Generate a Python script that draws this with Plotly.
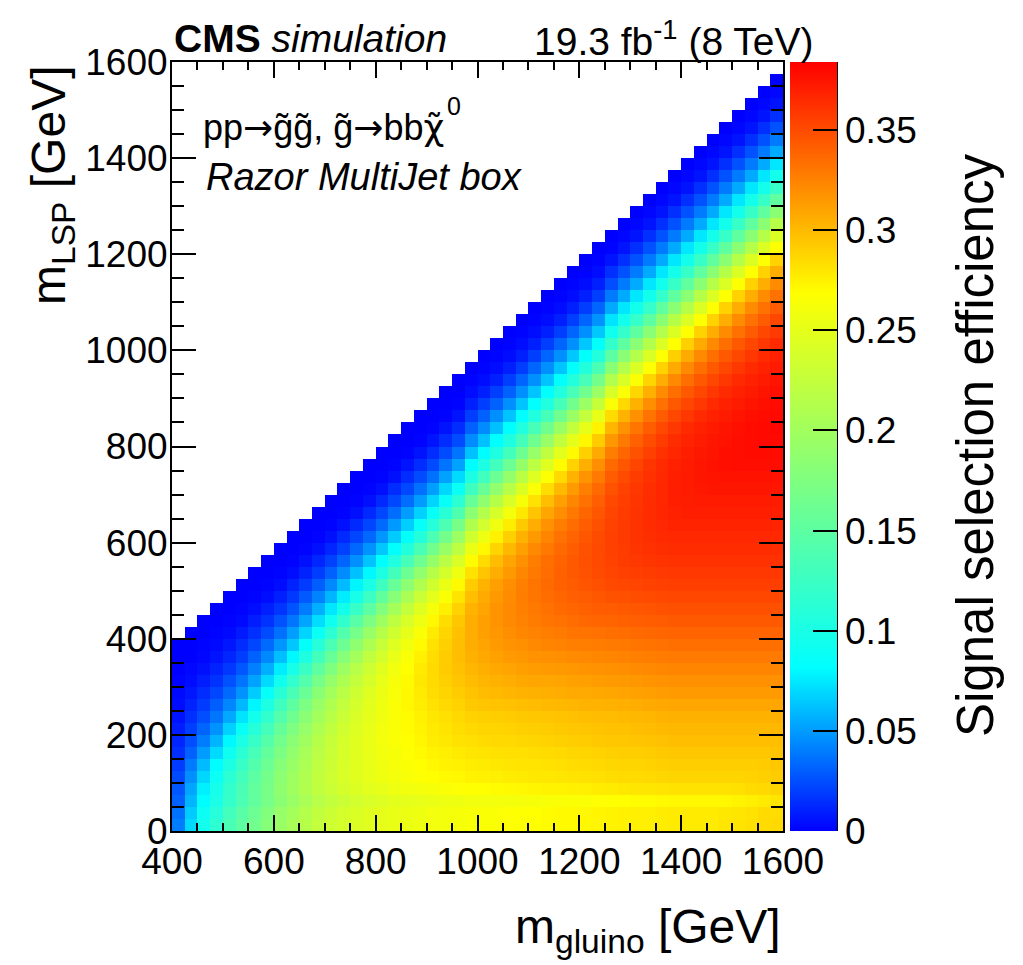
import plotly.graph_objects as go

# ---------------- data ----------------
# bin lower edges (GeV); each cell spans 25 GeV in both directions
gluino_edges = list(range(400, 1601, 25))   # 49 edges -> 48 columns
lsp_edges = list(range(0, 1576, 25))        # 64 edges -> 63 rows

# signal selection efficiency per gluino-mass column, listed from m_LSP = 0 upwards,
# in units of 1e-3
eff_400 = [40,36,31,28,24,19,15,12,9,6,4,3,1,0,0,0]
eff_425 = [70,65,58,53,46,39,31,25,20,15,11,7,4,2,0,0,0]
eff_450 = [95,90,81,77,69,60,50,40,32,25,19,14,9,5,2,1,0,0]
eff_475 = [115,110,101,97,90,81,70,58,47,38,30,22,16,11,6,3,1,0,0]
eff_500 = [135,130,121,119,113,103,92,80,67,54,43,34,26,18,12,7,3,1,0,0]
eff_525 = [150,146,137,136,131,123,113,101,87,73,59,47,37,28,20,14,8,3,1,0,0]
eff_550 = [165,161,153,153,149,142,133,122,109,95,79,65,52,41,31,22,15,9,4,1,0,0]
eff_575 = [180,177,169,170,167,161,154,144,132,118,103,86,70,56,44,34,24,16,10,4,1,0,0]
eff_600 = [195,192,184,187,185,180,173,166,156,143,128,112,94,76,61,48,36,26,17,10,4,1,0,0]
eff_625 = [205,203,195,199,198,194,189,183,174,163,151,135,118,99,80,64,51,38,27,18,11,4,1,0,0]
eff_650 = [215,213,206,211,211,208,204,199,192,183,173,159,143,124,104,85,68,53,40,29,19,11,5,1,0,0]
eff_675 = [225,223,216,222,223,221,218,215,209,201,193,182,168,150,131,110,89,71,56,42,30,20,12,5,1,0,0]
eff_700 = [232,231,224,230,232,231,229,227,222,217,210,201,190,175,157,137,114,93,74,58,44,31,21,12,5,1,0,0]
eff_725 = [238,237,230,237,240,240,239,237,234,230,225,218,209,197,181,162,142,118,96,76,60,45,32,21,13,5,1,0,0]
eff_750 = [243,242,236,243,247,247,247,246,244,241,238,233,225,216,203,187,168,146,122,99,79,62,46,33,22,13,5,1,0,0]
eff_775 = [247,246,240,248,252,252,253,253,252,250,248,245,239,232,222,209,193,173,150,125,101,80,63,47,33,22,13,5,1,0,0]
eff_800 = [250,250,244,252,257,258,259,260,259,258,257,255,252,246,238,228,215,198,177,154,128,103,82,64,48,34,23,13,5,1,0,0]
eff_825 = [253,253,248,256,261,262,263,265,265,265,265,264,262,259,253,245,234,221,203,181,157,131,105,83,65,49,35,23,14,5,1,0,0]
eff_850 = [255,255,250,259,264,266,267,269,270,270,272,272,271,269,265,259,251,240,225,207,185,160,133,107,85,66,50,35,23,14,6,1,0,0]
eff_875 = [257,257,252,261,267,269,271,273,274,275,277,278,279,278,275,271,265,256,245,230,211,188,163,135,108,86,67,50,36,24,14,6,1,0,0]
eff_900 = [260,260,254,263,269,272,274,277,278,279,282,284,285,285,284,282,278,272,262,250,234,215,191,165,137,110,87,68,51,36,24,14,6,1,0,0]
eff_925 = [261,261,256,265,271,274,276,279,281,283,286,288,290,292,292,290,288,284,276,266,254,238,218,193,167,138,111,88,69,52,37,24,14,6,1,0,0]
eff_950 = [263,263,257,267,272,275,278,282,284,286,289,292,295,297,298,298,297,294,289,281,271,258,241,220,196,169,140,113,89,70,52,37,24,14,6,1,0,0]
eff_975 = [264,264,259,268,274,277,280,283,286,289,293,296,299,302,304,306,306,306,303,298,292,282,270,254,234,211,185,157,128,102,81,62,45,31,20,10,4,1,0]
eff_1000 = [266,266,260,269,275,278,281,285,288,290,295,299,302,305,308,310,312,312,310,307,303,295,285,272,256,236,213,187,158,129,103,81,62,45,31,20,10,4,1,0]
eff_1025 = [266,266,261,270,276,279,282,286,288,291,296,300,304,308,311,314,316,317,317,315,312,306,299,288,275,258,239,215,188,160,130,104,82,62,46,31,20,10,4,1,0]
eff_1050 = [267,267,261,271,277,280,283,286,289,292,297,302,306,310,314,317,320,322,322,321,320,315,310,301,290,277,261,241,217,190,161,131,104,82,63,46,31,20,10,4,1,0]
eff_1075 = [268,268,262,272,278,281,283,287,290,293,298,303,308,312,316,319,323,325,326,327,326,323,319,312,304,293,279,263,243,219,191,162,132,105,82,63,46,32,20,10,4,1,0]
eff_1100 = [269,269,263,273,279,281,284,288,291,294,299,304,309,313,318,322,325,328,330,331,332,330,327,322,315,306,295,282,265,245,220,192,163,133,105,83,63,46,32,20,10,4,1,0]
eff_1125 = [270,270,264,274,279,282,285,289,292,295,300,305,309,314,319,324,327,331,333,335,336,335,334,330,324,318,309,298,284,267,247,222,194,164,133,106,83,63,46,32,20,10,4,1,0]
eff_1150 = [271,271,265,274,280,283,286,290,293,296,301,306,310,315,320,325,329,333,336,338,340,340,339,336,333,327,320,312,300,286,270,248,223,195,164,133,106,83,63,46,32,20,10,4,1,0]
eff_1175 = [271,271,266,275,281,284,287,291,294,297,302,307,311,316,321,326,331,335,338,341,343,344,344,342,339,335,330,323,314,303,289,271,250,224,195,165,134,106,83,64,46,32,20,10,4,1,0]
eff_1200 = [272,272,266,276,282,285,288,292,295,298,303,307,312,317,322,327,332,337,340,343,346,347,348,347,345,342,338,333,326,317,305,290,273,251,225,196,165,134,107,84,64,46,32,20,10,4,1,0]
eff_1225 = [273,273,267,277,283,286,289,293,296,299,303,308,313,318,323,328,333,338,342,345,348,350,351,351,350,348,345,341,336,329,320,307,292,274,252,226,196,166,135,107,84,64,47,32,20,10,4,1,0]
eff_1250 = [274,274,268,278,284,287,290,294,297,299,304,309,314,319,324,329,334,339,343,347,351,353,354,355,355,354,353,351,347,343,336,327,316,302,285,265,240,212,182,150,120,94,73,55,39,25,15,6,1,0]
eff_1275 = [275,275,269,279,285,288,291,294,297,300,305,310,315,320,325,330,335,340,344,348,352,355,357,357,358,358,357,356,354,350,345,338,329,318,303,286,265,241,213,183,151,120,95,74,55,39,26,15,6,2,0]
eff_1300 = [276,276,270,280,285,288,291,295,298,301,306,311,316,321,326,331,336,341,345,349,353,356,359,360,361,361,361,360,359,357,353,347,340,331,319,304,287,266,242,213,183,151,121,95,74,55,39,26,15,6,2,0]
eff_1325 = [276,276,270,280,286,289,292,296,299,302,307,312,317,322,327,332,337,342,346,350,354,357,360,362,363,364,364,364,363,362,360,355,349,342,332,320,305,288,267,242,214,183,151,121,95,74,55,39,26,15,6,2,0]
eff_1350 = [277,277,271,281,287,290,293,297,300,303,308,313,318,323,328,333,338,343,347,351,355,358,361,363,365,366,367,367,367,366,365,362,357,351,343,333,321,306,289,268,243,214,184,152,121,95,74,55,39,26,15,6,2,0]
eff_1375 = [278,278,272,282,288,291,294,298,301,304,309,314,319,324,329,334,339,344,348,352,356,359,362,364,366,368,369,370,370,370,369,367,364,359,352,344,334,322,307,290,269,243,215,184,152,122,96,74,55,39,26,15,6,2,0]
eff_1400 = [278,278,272,282,288,291,294,298,301,304,309,314,319,324,329,334,339,344,348,352,356,359,362,364,366,368,370,371,372,372,372,370,368,365,359,352,344,334,322,307,290,268,243,215,184,152,122,96,74,55,39,26,15,6,2,0]
eff_1425 = [278,278,272,282,288,291,294,298,301,304,309,314,319,324,329,334,339,344,348,352,356,359,362,364,366,368,370,372,373,374,374,373,371,369,365,359,352,344,334,322,307,289,268,243,215,184,152,122,96,74,55,39,26,15,6,2,0]
eff_1450 = [278,278,272,282,288,291,294,298,301,304,309,314,319,324,329,334,339,344,348,352,356,359,362,364,366,368,370,372,374,375,376,375,374,372,369,365,359,352,344,334,322,306,289,268,243,215,184,152,122,96,74,55,39,26,15,6,2,0]
eff_1475 = [280,279,272,282,288,291,294,298,301,304,309,314,319,324,329,334,339,344,348,352,356,359,362,364,366,368,370,372,374,376,377,377,376,375,372,369,365,359,352,344,334,321,306,289,268,243,215,184,152,122,96,74,55,39,26,15,6,2,0]
eff_1500 = [281,280,274,283,288,291,294,298,301,304,309,314,319,324,329,334,339,344,348,352,356,359,362,364,366,368,370,372,374,376,378,378,378,377,375,372,369,365,359,352,344,333,321,306,289,268,243,215,184,152,122,96,74,55,39,26,15,6,2,0]
eff_1525 = [283,282,276,285,289,291,294,298,301,304,309,314,319,324,329,334,339,344,348,352,356,359,362,364,366,368,370,372,374,376,378,379,379,379,377,375,372,369,365,359,352,343,333,321,306,289,268,243,215,184,152,122,96,74,55,39,26,15,6,2,0]
eff_1550 = [285,285,278,286,290,292,294,298,301,304,309,314,319,324,329,334,339,344,348,352,356,359,362,364,366,368,370,372,374,376,378,379,380,380,379,377,375,372,369,365,359,352,343,333,321,306,289,268,243,215,184,152,122,96,74,55,39,26,15,6,2,0]
eff_1575 = [286,284,280,288,292,294,296,298,301,304,309,314,319,324,329,334,339,344,348,352,356,359,362,364,366,368,370,372,374,376,378,379,380,381,380,379,377,375,372,369,365,358,352,343,333,321,306,289,268,243,215,184,152,122,96,74,55,39,26,15,6,2,0]

eff_columns = [eff_400, eff_425, eff_450, eff_475, eff_500, eff_525, eff_550, eff_575,
               eff_600, eff_625, eff_650, eff_675, eff_700, eff_725, eff_750, eff_775,
               eff_800, eff_825, eff_850, eff_875, eff_900, eff_925, eff_950, eff_975,
               eff_1000, eff_1025, eff_1050, eff_1075, eff_1100, eff_1125, eff_1150, eff_1175,
               eff_1200, eff_1225, eff_1250, eff_1275, eff_1300, eff_1325, eff_1350, eff_1375,
               eff_1400, eff_1425, eff_1450, eff_1475, eff_1500, eff_1525, eff_1550, eff_1575]

colorbar_ticks = [0, 0.05, 0.1, 0.15, 0.2, 0.25, 0.3, 0.35]
colorbar_ticktext = ["0", "0.05", "0.1", "0.15", "0.2", "0.25", "0.3", "0.35"]

# ---------------- figure ----------------
n_rows = len(lsp_edges) - 1
z = [[(col[j] / 1000.0 if j < len(col) else None) for col in eff_columns] for j in range(n_rows)]

FONT = "Liberation Sans, Arial, Helvetica, sans-serif"
W, H = 1023, 965
L, R, T, B = 172, 783, 62, 831          # plot-area pixel box
pw, ph = R - L, B - T

def px(xp):
    return (xp - L) / pw

def py(yp):
    return (B - yp) / ph

colorscale = [[0.0, "rgb(0,0,255)"], [0.213, "rgb(0,255,255)"],
              [0.70, "rgb(255,255,0)"], [1.0, "rgb(255,0,0)"]]

fig = go.Figure(go.Heatmap(
    x=gluino_edges, y=lsp_edges, z=z,
    zmin=0, zmax=0.384, colorscale=colorscale,
    hoverongaps=False,
    colorbar=dict(
        x=px(790), xanchor="left", xpad=0, ypad=0,
        y=0.5, yanchor="middle", len=1.0, lenmode="fraction",
        thickness=47, thicknessmode="pixels", outlinewidth=0,
        tickmode="array", tickvals=colorbar_ticks, ticktext=colorbar_ticktext,
        ticks="inside", ticklen=24, tickwidth=2, tickcolor="black",
        tickfont=dict(family=FONT, size=37, color="black"),
    ),
))

axis_common = dict(
    showgrid=False, zeroline=False, showline=True, linecolor="black", linewidth=2,
    mirror="ticks", ticks="inside", tickwidth=2, tickcolor="black",
    tickfont=dict(family=FONT, size=37, color="black"),
)

fig.update_layout(
    width=W, height=H,
    margin=dict(l=L, r=W - R, t=T, b=H - B, pad=0),
    paper_bgcolor="white", plot_bgcolor="white",
    font=dict(family=FONT, color="black"),
    xaxis=dict(range=[400, 1600], tick0=400, dtick=200, ticklen=16, ticklabelstandoff=-3,
               minor=dict(tick0=400, dtick=50, ticks="inside", ticklen=8,
                          tickwidth=2, tickcolor="black", showgrid=False),
               **axis_common),
    yaxis=dict(range=[0, 1600], tick0=0, dtick=200, ticklen=24, ticklabelstandoff=-5,
               minor=dict(tick0=0, dtick=50, ticks="inside", ticklen=12,
                          tickwidth=2, tickcolor="black", showgrid=False),
               **axis_common),
    shapes=[dict(type="line", xref="paper", yref="paper",
                 x0=px(837), x1=px(837), y0=0, y1=1,
                 line=dict(color="black", width=2))],
)

ARROW = '<span style="font-family:DejaVu Sans">\u2192</span>'
CHI = '<span style="font-family:DejaVu Sans">\u03c7\u0303</span>'
ann = [
    dict(text="<b>CMS</b> <i>simulation</i>", x=px(172), y=py(39),
         xanchor="left", yanchor="middle", font=dict(size=39)),
    dict(text="19.3 fb<sup>-1</sup> (8 TeV)", x=px(815), y=py(39),
         xanchor="right", yanchor="middle", font=dict(size=39)),
    dict(text="pp" + ARROW + "g\u0303g\u0303, g\u0303" + ARROW + "bb" + CHI,
         x=px(446), y=py(128), xanchor="right", yanchor="middle", font=dict(size=36)),
    dict(text="0", x=px(445), y=py(106),
         xanchor="left", yanchor="middle", font=dict(size=25)),
    dict(text="<i>Razor MultiJet box</i>", x=px(204), y=py(177),
         xanchor="left", yanchor="middle", font=dict(size=38)),
    dict(text="m<sub>gluino</sub> [GeV]", x=px(783), y=py(930),
         xanchor="right", yanchor="middle", font=dict(size=48)),
    dict(text="m<sub>LSP</sub> [GeV]", x=px(52), y=py(63), textangle=-90,
         xanchor="center", yanchor="top", font=dict(size=48)),
    dict(text="Signal selection efficiency", x=px(975), y=py(445), textangle=-90,
         xanchor="center", yanchor="middle", font=dict(size=51)),
]
for a in ann:
    a.update(xref="paper", yref="paper", showarrow=False)
    a["font"].update(family=FONT, color="black")
fig.update_layout(annotations=ann)

fig.write_html("out.html")
